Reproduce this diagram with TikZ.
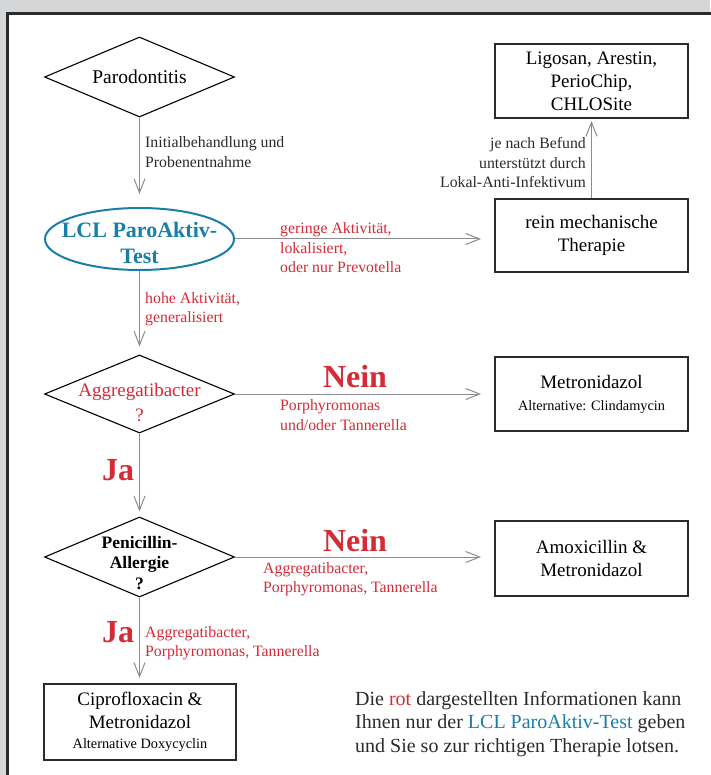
\documentclass[tikz,border=0pt]{standalone}
\usepackage{fontspec}
\setmainfont{Liberation Serif}
\usetikzlibrary{arrows.meta}
\usetikzlibrary{shapes.geometric}
\usetikzlibrary{calc}

\definecolor{lclred}{RGB}{213,43,53}
\definecolor{lclblue}{RGB}{25,127,166}
\definecolor{framegray}{RGB}{43,43,43}
\definecolor{arrowgray}{RGB}{140,140,140}
\definecolor{backgray}{RGB}{213,214,216}

\tikzset{
  question/.style={diamond, draw=black, line width=1.1pt, minimum width=190pt, minimum height=80pt, inner sep=0pt},
  testoval/.style={ellipse, draw=lclblue, line width=2pt, minimum width=189pt, minimum height=62pt, inner sep=0pt},
  therapy/.style={draw=framegray, line width=2pt, minimum width=193pt, minimum height=74pt, align=center, inner sep=0pt, font=\fontsize{19}{23}\selectfont},
  flow/.style={draw=arrowgray, line width=1pt, -{Straight Barb[length=14pt,width=11pt]}},
  redlabel/.style={text=lclred, font=\fontsize{15.8}{19.5}\selectfont, align=left, inner sep=0pt},
  greylabel/.style={text=framegray, font=\fontsize{15.8}{19.5}\selectfont, align=left, inner sep=0pt},
  answer/.style={text=lclred, font=\fontsize{32}{32}\selectfont\bfseries, inner sep=0pt}
}

\begin{document}
\begin{tikzpicture}[x=1pt, y=-1pt]
  \useasboundingbox (0,0) rectangle (710,775);
  \fill[backgray] (0,0) rectangle (710,775);
  \fill[white] (6,12) rectangle (712,777);
  \draw[framegray, line width=3pt] (7.5,777) -- (7.5,13.5) -- (712,13.5);

  % left column
  \node[question] (paro) at (139.5,77) {};
  \node[font=\fontsize{19.5}{23}\selectfont, inner sep=0pt] (parotext) at (paro) {Parodontitis};

  \node[testoval] (lcl) at (139.5,239) {};
  \node[text=lclblue, font=\fontsize{22}{26}\selectfont\bfseries, align=center, inner sep=0pt] (lcltext) at (139.5,243) {LCL ParoAktiv-\\Test};

  \node[question, minimum height=78pt] (aggr) at (139.5,394) {};
  \node[text=lclred, font=\fontsize{19}{25}\selectfont, align=center, inner sep=0pt] (aggrtext) at (139.5,403) {Aggregatibacter\\?};

  \node[question] (peni) at (139.5,557) {};
  \node[font=\fontsize{17.5}{20.5}\selectfont\bfseries, align=center, inner sep=0pt] (penitext) at (139.5,563) {Penicillin-\\Allergie\\?};

  \node[therapy, minimum width=192pt, minimum height=76pt] (cipro) at (140,722) {Ciprofloxacin \&\\Metronidazol\\[-3pt]{\fontsize{14.3}{16}\selectfont Alternative Doxycyclin}};

  % right column
  \node[therapy] (ligo) at (591.5,81) {Ligosan, Arestin,\\PerioChip,\\CHLOSite};
  \node[therapy, minimum height=73pt] (rein) at (591.5,235.5) {rein mechanische\\Therapie};
  \node[therapy] (metro) at (591.5,394) {Metronidazol\\[-1pt]{\fontsize{14.3}{16}\selectfont Alternative: Clindamycin}};
  \node[therapy, minimum height=75pt] (amox) at (591.5,558.5) {Amoxicillin \&\\Metronidazol};

  % arrows
  \draw[flow, shorten >=13pt] (paro.south) -- (lcl.north);
  \draw[flow, shorten >=8pt] (lcl.south) -- (aggr.north);
  \draw[flow, shorten >=5pt] (aggr.south) -- (peni.north);
  \draw[flow, shorten >=5pt] (peni.south) -- (peni.south |- cipro.north);
  \draw[flow, shorten >=2pt] (rein.north) -- (ligo.south);
  \draw[flow, shorten >=13pt] (lcl.east) -- (lcl.east -| rein.west);
  \draw[flow, shorten >=13pt] (aggr.east) -- (aggr.east -| metro.west);
  \draw[flow, shorten >=13pt] (peni.east) -- (peni.east -| amox.west);

  % labels
  \node[greylabel, anchor=west] (initlabel) at (145,152) {Initialbehandlung und\\Probenentnahme};
  \node[redlabel, anchor=west] (lowlabel) at (280,248) {geringe Aktivität,\\lokalisiert,\\oder nur Prevotella};
  \node[greylabel, anchor=east, align=right] (befundlabel) at (586,163) {je nach Befund\\unterstützt durch\\Lokal-Anti-Infektivum};
  \node[redlabel, anchor=west] (highlabel) at (145,309) {hohe Aktivität,\\generalisiert};
  \node[answer] (nein1) at (355,377) {Nein};
  \node[redlabel, anchor=west] (neinlabel1) at (280,415) {Porphyromonas\\und/oder Tannerella};
  \node[answer] (ja1) at (118,470) {Ja};
  \node[answer] (nein2) at (355,541) {Nein};
  \node[redlabel, anchor=west] (neinlabel2) at (263,579) {Aggregatibacter,\\Porphyromonas, Tannerella};
  \node[answer] (ja2) at (118,632) {Ja};
  \node[redlabel, anchor=west] (jalabel2) at (145,643) {Aggregatibacter,\\Porphyromonas, Tannerella};

  \node[anchor=west, align=left, font=\fontsize{20}{23.5}\selectfont, text=framegray, inner sep=0pt] (note) at (355,724) {Die \textcolor{lclred}{rot} dargestellten Informationen kann\\Ihnen nur der \textcolor{lclblue}{LCL ParoAktiv-Test} geben\\und Sie so zur richtigen Therapie lotsen.};
\end{tikzpicture}
\end{document}
